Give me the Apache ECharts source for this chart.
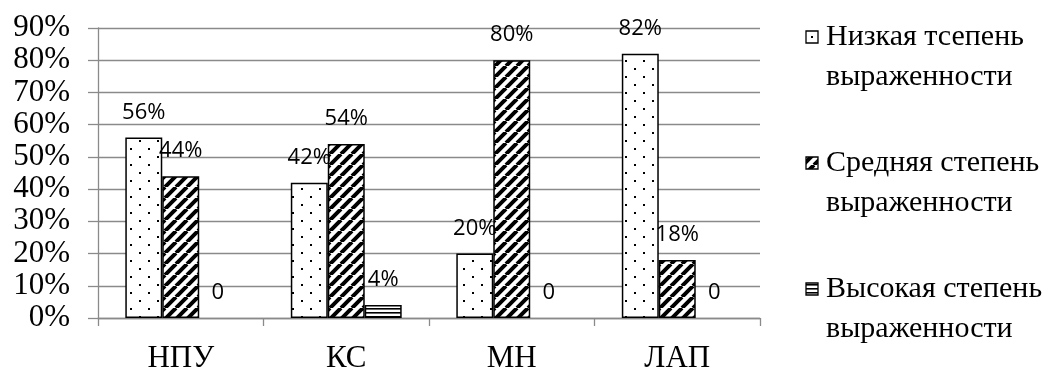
<!DOCTYPE html>
<html>
<head>
<meta charset="utf-8">
<script src="https://cdn.jsdelivr.net/npm/echarts@6/dist/echarts.min.js"></script>
<style>
  html, body { margin: 0; padding: 0; background: #fff; }
  #chart { width: 1057px; height: 370px; }
</style>
</head>
<body>
<div id="chart"></div>
<script>
// Categories and values (percent)
const categories = ['НПУ', 'КС', 'МН', 'ЛАП'];
const seriesNames = [
  'Низкая тсепень\nвыраженности',
  'Средняя степень\nвыраженности',
  'Высокая степень\nвыраженности'
];
const lowLevel = [56, 42, 20, 82];
const midLevel = [44, 54, 80, 18];
const highLevel = [0, 4, 0, 0];
const yMin = 0, yMax = 90, yStep = 10;

// Hatch fills drawn on small canvases and tiled
function makeTile(w, h, draw) {
  const c = document.createElement('canvas');
  c.width = w; c.height = h;
  const ctx = c.getContext('2d');
  ctx.fillStyle = '#fff';
  ctx.fillRect(0, 0, w, h);
  draw(ctx, w, h);
  return { image: c, repeat: 'repeat' };
}
const dotFill = makeTile(18, 16, (ctx) => {
  ctx.fillStyle = '#000';
  ctx.fillRect(4, 4, 2, 2);
  ctx.fillRect(13, 12, 2, 2);
});
const diagFill = makeTile(11, 11, (ctx, w, h) => {
  ctx.strokeStyle = '#000';
  ctx.lineWidth = 4;
  ctx.beginPath();
  for (let k = -1; k <= 1; k++) {
    ctx.moveTo(k * w, h);
    ctx.lineTo(k * w + w, 0);
  }
  ctx.stroke();
});
const horizFill = makeTile(8, 4, (ctx, w) => {
  ctx.fillStyle = '#000';
  ctx.fillRect(0, 0, w, 1.6);
});

const fills = [dotFill, diagFill, horizFill];
const values = [lowLevel, midLevel, highLevel];

const serif = '"Liberation Serif", "Times New Roman", serif';
const sans = '"Open Sans", "Noto Sans", sans-serif';
const gridColor = '#8a8a8a';

const series = seriesNames.map((name, i) => ({
  name: name,
  type: 'bar',
  // zero-height bars keep their label but draw no outline
  data: values[i].map(v => (v === 0 ? { value: v, itemStyle: { borderWidth: 0 } } : v)),
  barGap: '0%',
  barCategoryGap: '33%',
  itemStyle: { color: fills[i], borderColor: '#000', borderWidth: 1.5 },
  label: {
    show: true,
    position: 'top',
    distance: 14,
    fontFamily: sans,
    fontSize: 22,
    color: '#000',
    formatter: (p) => (p.value === 0 ? '0' : p.value + '%')
  }
}));

// Legend drawn as graphic items: swatch aligned with the first text line
const legendX = 806, legendTop = 37, legendStep = 126;
const legendGraphics = [];
seriesNames.forEach((name, i) => {
  const cy = legendTop + i * legendStep;
  legendGraphics.push({
    type: 'rect',
    shape: { x: legendX, y: cy - 6, width: 12, height: 12 },
    style: { fill: i === 0 ? '#fff' : fills[i], stroke: '#000', lineWidth: 1.3 }
  });
  if (i === 0) {
    legendGraphics.push({
      type: 'rect',
      shape: { x: legendX + 5, y: cy - 1, width: 2, height: 2 },
      style: { fill: '#000' }
    });
  }
  legendGraphics.push({
    type: 'text',
    x: legendX + 20,
    y: cy - 20,
    style: {
      text: name,
      font: '30px ' + serif,
      lineHeight: 40,
      fill: '#000',
      verticalAlign: 'top',
      align: 'left'
    }
  });
});

const chart = echarts.init(document.getElementById('chart'), null, { renderer: 'canvas' });
chart.setOption({
  animation: false,
  backgroundColor: '#fff',
  grid: {
    left: 98, right: 297, top: 28, bottom: 52,
    containLabel: false,
    outerBoundsMode: 'none'
  },
  xAxis: {
    type: 'category',
    data: categories,
    boundaryGap: true,
    axisLine: { lineStyle: { color: gridColor, width: 1.3 } },
    axisTick: { show: true, alignWithLabel: false, length: 8, lineStyle: { color: gridColor, width: 1.3 } },
    axisLabel: { fontFamily: serif, fontSize: 31, color: '#000', margin: 25 }
  },
  yAxis: {
    type: 'value',
    min: yMin,
    max: yMax,
    interval: yStep,
    axisLine: { show: true, lineStyle: { color: gridColor, width: 1.3 } },
    axisTick: { show: true, inside: false, length: 10, lineStyle: { color: gridColor, width: 1.3 } },
    splitLine: { show: true, lineStyle: { color: gridColor, width: 1.3 } },
    axisLabel: {
      fontFamily: serif, fontSize: 31, color: '#000', margin: 28,
      showMinLabel: true, showMaxLabel: true,
      formatter: '{value}%'
    }
  },
  graphic: legendGraphics,
  series: series
});
</script>
</body>
</html>
